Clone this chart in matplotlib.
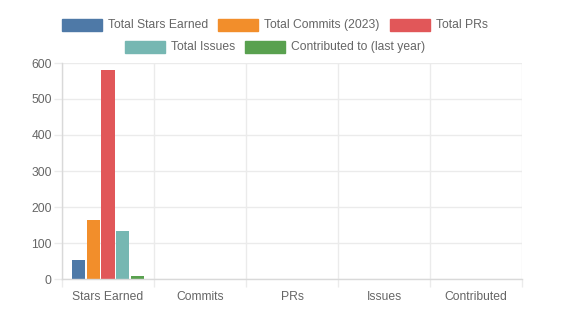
import matplotlib
matplotlib.use('Agg')
import matplotlib.pyplot as plt
from matplotlib.patches import Rectangle
from matplotlib.ticker import FixedLocator
import numpy as np

plt.rcParams['font.family'] = ['Liberation Sans', 'DejaVu Sans']

categories = ['Stars Earned', 'Commits', 'PRs', 'Issues', 'Contributed']
series_names = ['Total Stars Earned', 'Total Commits (2023)', 'Total PRs',
                'Total Issues', 'Contributed to (last year)']
stars = [53, 0, 0, 0, 0]
commits = [164, 0, 0, 0, 0]
prs = [580, 0, 0, 0, 0]
issues = [134, 0, 0, 0, 0]
contributed = [7, 0, 0, 0, 0]
series = [stars, commits, prs, issues, contributed]
colors = ['#4e79a7', '#f28e2b', '#e15759', '#76b7b2', '#59a14f']

W, H = 576, 330
fig = plt.figure(figsize=(W / 100, H / 100), dpi=100)
ax = fig.add_axes([62 / W, 51 / H, 460 / W, 216 / H])

grid_c = '#ebebeb'
axis_c = '#d9d9d9'
text_c = '#666666'

# grouped bars (chart.js style: category 0.8, bar 0.9)
n = len(series)
x = np.arange(len(categories))
slot = 0.8 / n
for i, (vals, c) in enumerate(zip(series, colors)):
    offs = -0.4 + slot * (i + 0.5)
    ax.bar(x + offs, vals, width=slot * 0.9, color=c, zorder=3)

ax.set_xlim(-0.5, len(categories) - 0.5)
ax.set_ylim(0, 600)
ax.set_yticks(np.arange(0, 601, 100))
ax.set_xticks(x)
ax.set_xticklabels(categories)
ax.xaxis.set_minor_locator(FixedLocator(np.arange(-0.5, len(categories), 1)))

ax.grid(axis='y', color=grid_c, lw=1, zorder=0)
ax.grid(axis='x', which='minor', color=grid_c, lw=1, zorder=0)
ax.tick_params(axis='x', which='major', length=0, pad=8.5, labelsize=8.7, labelcolor=text_c)
ax.tick_params(axis='x', which='minor', length=5.8, color=grid_c, width=1)
ax.tick_params(axis='y', length=5.8, color=grid_c, width=1, pad=1.5,
               labelsize=8.7, labelcolor=text_c)

for s in ['top', 'right']:
    ax.spines[s].set_visible(False)
for s in ['left', 'bottom']:
    ax.spines[s].set_color(axis_c)
    ax.spines[s].set_linewidth(1)
    ax.spines[s].set_zorder(4)

# legend drawn manually, two centered rows like chart.js
renderer = fig.canvas.get_renderer()
rows = [[0, 1, 2], [3, 4]]
row_y = [25, 47]
box_w, box_h, gap_txt, gap_item = 40, 12, 6, 10
center = 275
for row, yc in zip(rows, row_y):
    widths = []
    for i in row:
        t = fig.text(0, 0, series_names[i], fontsize=8.7)
        widths.append(t.get_window_extent(renderer).width)
        t.remove()
    total = sum(box_w + gap_txt + w for w in widths) + gap_item * (len(row) - 1)
    xx = center - total / 2
    for i, w in zip(row, widths):
        fig.patches.append(Rectangle((xx / W, (H - yc - box_h / 2) / H), box_w / W, box_h / H,
                                     transform=fig.transFigure, color=colors[i]))
        fig.text((xx + box_w + gap_txt) / W, (H - yc) / H, series_names[i],
                 fontsize=8.7, color=text_c, va='center', ha='left')
        xx += box_w + gap_txt + w + gap_item

fig.savefig('out.png', dpi=100)
